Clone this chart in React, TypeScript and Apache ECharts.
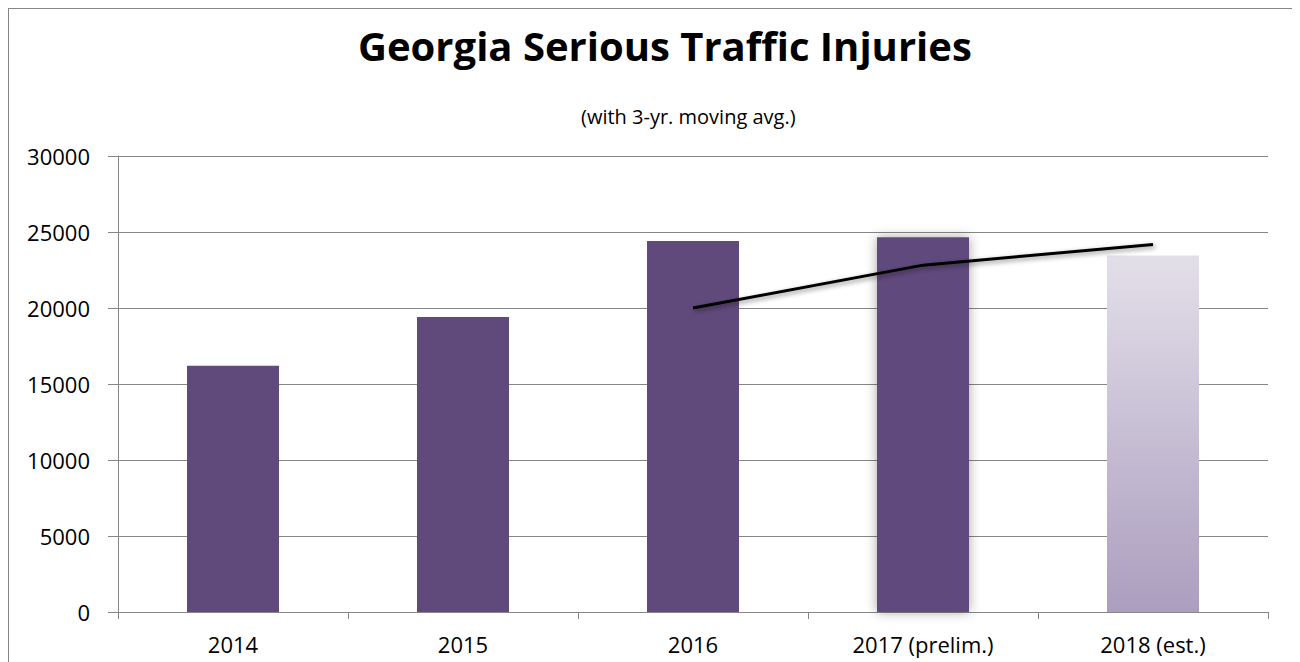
import React, { useEffect, useRef } from "react";
import * as echarts from "echarts";

const categories = ["2014", "2015", "2016", "2017 (prelim.)", "2018 (est.)"];
const injuries = [16200, 19400, 24400, 24650, 23450];
const movingAvg: (number | null)[] = [null, null, 20000, 22820, 24170];
const yTicks = { min: 0, max: 30000, interval: 5000 };

const PURPLE = "#604A7B";
const GRID = "#868686";

export default function App() {
  const ref = useRef<HTMLDivElement>(null);
  useEffect(() => {
    document.body.style.overflow = "hidden";
    const chart = echarts.init(ref.current!, undefined, { renderer: "svg" });
    const barData = injuries.map((v, i) => {
      if (i === 3) {
        return {
          value: v,
          itemStyle: {
            color: PURPLE,
            shadowBlur: 12,
            shadowColor: "rgba(0,0,0,0.35)",
          },
        };
      }
      if (i === 4) {
        return {
          value: v,
          itemStyle: {
            color: new echarts.graphic.LinearGradient(0, 0, 0, 1, [
              { offset: 0, color: "#E3DFE9" },
              { offset: 1, color: "#AB9EBF" },
            ]),
          },
        };
      }
      return { value: v, itemStyle: { color: PURPLE } };
    });
    chart.setOption({
      animation: false,
      backgroundColor: "#ffffff",
      title: [
        {
          text: "Georgia Serious Traffic Injuries",
          left: 344,
          top: 11,
          textStyle: {
            fontFamily: "Open Sans",
            fontWeight: "bold",
            fontSize: 40,
            color: "#000",
          },
        },
        {
          text: "(with 3-yr. moving avg.)",
          left: 567,
          top: 92,
          textStyle: {
            fontFamily: "Open Sans",
            fontWeight: "normal",
            fontSize: 20,
            color: "#000",
          },
        },
      ],
      grid: { left: 109, right: 25, top: 147, bottom: 77 },
      xAxis: {
        type: "category",
        data: categories,
        axisLine: { lineStyle: { color: GRID, width: 1 } },
        axisTick: { show: true, length: 7, lineStyle: { color: GRID } },
        axisLabel: {
          color: "#000",
          fontFamily: "Open Sans",
          fontSize: 22,
          margin: 21,
        },
      },
      yAxis: {
        type: "value",
        min: yTicks.min,
        max: yTicks.max,
        interval: yTicks.interval,
        axisLine: { show: true, lineStyle: { color: GRID, width: 1 } },
        axisTick: { show: true, inside: false, length: 10, lineStyle: { color: GRID } },
        splitLine: { show: true, lineStyle: { color: GRID, width: 1 } },
        axisLabel: {
          color: "#000",
          fontFamily: "Open Sans",
          fontSize: 22,
          margin: 28,
          formatter: (v: number) => String(v),
        },
      },
      series: [
        {
          type: "bar",
          data: barData,
          barWidth: "40%",
        },
        {
          type: "line",
          data: movingAvg,
          symbol: "none",
          lineStyle: {
            color: "#000",
            width: 3,
            shadowBlur: 5,
            shadowOffsetX: 2,
            shadowOffsetY: 2,
            shadowColor: "rgba(0,0,0,0.45)",
          },
        },
      ],
    });
    return () => chart.dispose();
  }, []);
  return (
    <div style={{ width: 1284, height: 680, border: "1px solid #868686" }}>
      <div ref={ref} style={{ width: 1284, height: 680 }} />
    </div>
  );
}
